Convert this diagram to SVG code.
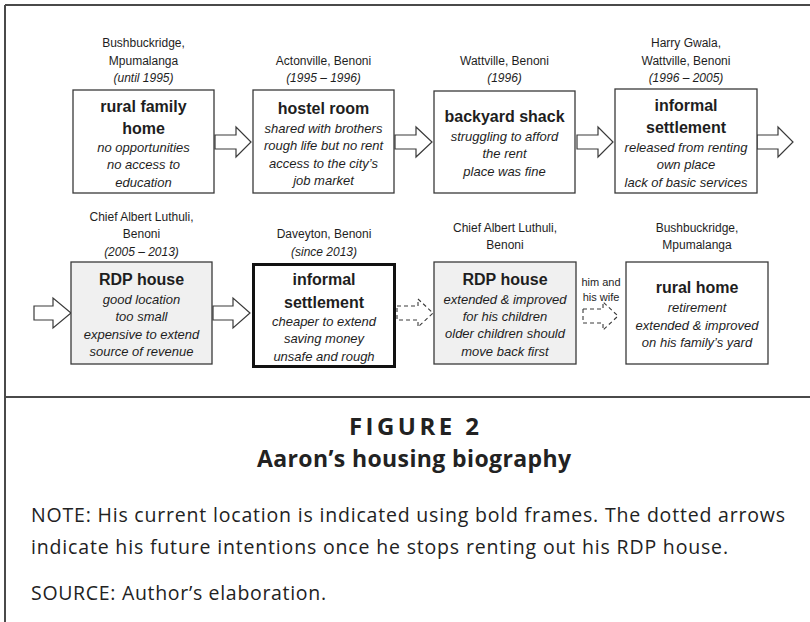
<svg xmlns="http://www.w3.org/2000/svg" width="810" height="622" viewBox="0 0 810 622">
<style>
.bg{fill:#ffffff}
.frame{stroke:#4a4a4a;stroke-width:2;fill:none}
.box{fill:#ffffff;stroke:#3a3a3a;stroke-width:1.3}
.gray{fill:#f0f0f0}
.bold{stroke:#111;stroke-width:3}
.arrow{fill:#ffffff;stroke:#3a3a3a;stroke-width:1.2;stroke-linejoin:miter}
.dash{fill:#ffffff;stroke:#3a3a3a;stroke-width:1.1;stroke-dasharray:4 3}
text{font-family:"Liberation Sans",Arial,sans-serif;fill:#1e1e1e;text-anchor:middle}
.loc{font-size:12px}
.title{font-size:16px;font-weight:bold}
.it{font-size:13px;font-style:italic}
.small{font-size:11px}
.cap{font-family:"Open Sans","Liberation Sans",sans-serif;fill:#222}
.fig{font-size:24px;font-weight:bold;letter-spacing:2px}
.sub{font-size:23px;font-weight:bold}
.note{font-size:19.5px;text-anchor:start}
</style>
<rect class="bg" x="0" y="0" width="810" height="622"/>
<g id="frame">
<path class="frame" d="M5,5 H810 M5,5 V622 M5,397 H810"/>
</g>
<g id="connectors">
<path class="arrow" d="M215,135 H236 V127 L251,142 L236,157 V149 H215 Z"/>
<path class="arrow" d="M395,135 H416 V127 L432,142 L416,157 V149 H395 Z"/>
<path class="arrow" d="M577,135 H598 V127 L613,142 L598,157 V149 H577 Z"/>
<path class="arrow" d="M757,135 H778 V127 L793,142 L778,157 V149 H757 Z"/>
<path class="arrow" d="M34,306 H53 V298 L71,313 L53,328 V320 H34 Z"/>
<path class="arrow" d="M213,306 H233 V298 L250,313 L233,328 V320 H213 Z"/>
<path class="dash" d="M397,306 H418 V299 L433,313 L418,327 V320 H397 Z"/>
<path class="dash" d="M583,309 H603 V302 L618,316 L603,330 V323 H583 Z"/>
<text class="small" x="601" y="286">him and</text>
<text class="small" x="601" y="301">his wife</text>
</g>
<g id="n1">
<text class="loc" x="143.5" y="47">Bushbuckridge,</text>
<text class="loc" x="143.5" y="65">Mpumalanga</text>
<text class="loc" x="143.5" y="82" font-style="italic">(until 1995)</text>
<rect class="box" x="73" y="90" width="141" height="103"/>
<text class="title" x="143.5" y="112">rural family</text>
<text class="title" x="143.5" y="134">home</text>
<text class="it" x="143.5" y="151.5">no opportunities</text>
<text class="it" x="143.5" y="169">no access to</text>
<text class="it" x="143.5" y="186.5">education</text>
</g>
<g id="n2">
<text class="loc" x="323.5" y="65">Actonville, Benoni</text>
<text class="loc" x="323.5" y="82" font-style="italic">(1995 – 1996)</text>
<rect class="box" x="253" y="90" width="141" height="103"/>
<text class="title" x="323.5" y="114">hostel room</text>
<text class="it" x="323.5" y="132.5">shared with brothers</text>
<text class="it" x="323.5" y="150">rough life but no rent</text>
<text class="it" x="323.5" y="167.5">access to the city’s</text>
<text class="it" x="323.5" y="185">job market</text>
</g>
<g id="n3">
<text class="loc" x="504.5" y="65">Wattville, Benoni</text>
<text class="loc" x="504.5" y="82" font-style="italic">(1996)</text>
<rect class="box" x="434" y="91" width="141" height="102"/>
<text class="title" x="504.5" y="122">backyard shack</text>
<text class="it" x="504.5" y="140.5">struggling to afford</text>
<text class="it" x="504.5" y="158">the rent</text>
<text class="it" x="504.5" y="175.5">place was fine</text>
</g>
<g id="n4">
<text class="loc" x="686" y="47">Harry Gwala,</text>
<text class="loc" x="686" y="65">Wattville, Benoni</text>
<text class="loc" x="686" y="82" font-style="italic">(1996 – 2005)</text>
<rect class="box" x="615" y="89" width="142" height="104"/>
<text class="title" x="686" y="111">informal</text>
<text class="title" x="686" y="133">settlement</text>
<text class="it" x="686" y="151.5">released from renting</text>
<text class="it" x="686" y="169">own place</text>
<text class="it" x="686" y="186.5">lack of basic services</text>
</g>
<g id="n5">
<text class="loc" x="141.5" y="221">Chief Albert Luthuli,</text>
<text class="loc" x="141.5" y="238">Benoni</text>
<text class="loc" x="141.5" y="256" font-style="italic">(2005 – 2013)</text>
<rect class="box gray" x="71" y="262" width="141" height="102"/>
<text class="title" x="141.5" y="285">RDP house</text>
<text class="it" x="141.5" y="303.5">good location</text>
<text class="it" x="141.5" y="321">too small</text>
<text class="it" x="141.5" y="338.5">expensive to extend</text>
<text class="it" x="141.5" y="356">source of revenue</text>
</g>
<g id="n6">
<text class="loc" x="324" y="238">Daveyton, Benoni</text>
<text class="loc" x="324" y="256" font-style="italic">(since 2013)</text>
<rect class="box bold" x="253.5" y="264.5" width="141" height="102"/>
<text class="title" x="324" y="285">informal</text>
<text class="title" x="324" y="308">settlement</text>
<text class="it" x="324" y="325.5">cheaper to extend</text>
<text class="it" x="324" y="343">saving money</text>
<text class="it" x="324" y="360.5">unsafe and rough</text>
</g>
<g id="n7">
<text class="loc" x="505" y="232">Chief Albert Luthuli,</text>
<text class="loc" x="505" y="249">Benoni</text>
<rect class="box gray" x="434" y="262" width="142" height="102"/>
<text class="title" x="505" y="285">RDP house</text>
<text class="it" x="505" y="303.5">extended &amp; improved</text>
<text class="it" x="505" y="321">for his children</text>
<text class="it" x="505" y="338">older children should</text>
<text class="it" x="505" y="355.5">move back first</text>
</g>
<g id="n8">
<text class="loc" x="697" y="232">Bushbuckridge,</text>
<text class="loc" x="697" y="249">Mpumalanga</text>
<rect class="box" x="626" y="262" width="142" height="102"/>
<text class="title" x="697" y="293">rural home</text>
<text class="it" x="697" y="311.5">retirement</text>
<text class="it" x="697" y="329.5">extended &amp; improved</text>
<text class="it" x="697" y="347">on his family’s yard</text>
</g>
<g id="caption">
<text class="cap fig" x="415" y="435" textLength="132">FIGURE 2</text>
<text class="cap sub" x="414" y="467" textLength="314">Aaron’s housing biography</text>
<text class="cap note" x="31" y="522" textLength="754">NOTE: His current location is indicated using bold frames. The dotted arrows</text>
<text class="cap note" x="31" y="554" textLength="697">indicate his future intentions once he stops renting out his RDP house.</text>
<text class="cap note" x="31" y="600" textLength="295">SOURCE: Author’s elaboration.</text>
</g>
</svg>
